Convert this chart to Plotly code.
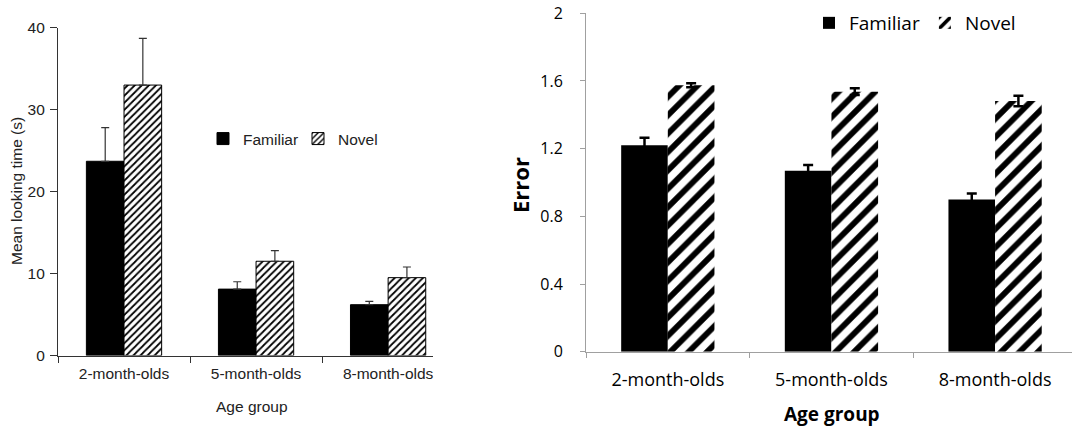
import plotly.graph_objects as go

# Age groups shared by both panels
age_groups = ["2-month-olds", "5-month-olds", "8-month-olds"]

# Panel A: mean looking time (s), upper error bars only
looking_familiar = [23.7, 8.1, 6.2]
looking_familiar_err = [4.1, 0.9, 0.4]
looking_novel = [33.0, 11.5, 9.5]
looking_novel_err = [5.7, 1.3, 1.3]

# Panel B: error, symmetric error bars
error_familiar = [1.22, 1.07, 0.90]
error_familiar_err = [0.045, 0.033, 0.035]
error_novel = [1.575, 1.537, 1.481]
error_novel_err = [0.012, 0.02, 0.031]

W, H = 1072, 432


def px_x(p):
    return p / W


def px_y(p):
    return (H - p) / H


LEFT_FONT = "Arial, Liberation Sans, sans-serif"
RIGHT_FONT = "Open Sans, sans-serif"

fig = go.Figure()

# ---- left panel ----
fig.add_trace(go.Bar(
    x=age_groups, y=looking_familiar, name="Familiar",
    marker=dict(color="black", line=dict(color="black", width=1)),
    error_y=dict(type="data", symmetric=False, array=looking_familiar_err,
                 arrayminus=[0] * len(looking_familiar_err),
                 color="#333", thickness=1.2, width=4),
    xaxis="x", yaxis="y", legend="legend",
))
fig.add_trace(go.Bar(
    x=age_groups, y=looking_novel, name="Novel",
    marker=dict(color="white", line=dict(color="black", width=1),
                pattern=dict(shape="/", size=5, solidity=0.35,
                             fgcolor="black", bgcolor="white", fgopacity=1)),
    error_y=dict(type="data", symmetric=False, array=looking_novel_err,
                 arrayminus=[0] * len(looking_novel_err),
                 color="#333", thickness=1.2, width=4),
    xaxis="x", yaxis="y", legend="legend",
))

# ---- right panel ----
fig.add_trace(go.Bar(
    x=age_groups, y=error_familiar, name="Familiar",
    marker=dict(color="black", line=dict(width=0)),
    error_y=dict(type="data", array=error_familiar_err,
                 color="black", thickness=2.5, width=5),
    xaxis="x2", yaxis="y2", legend="legend2",
))
fig.add_trace(go.Bar(
    x=age_groups, y=error_novel, name="Novel",
    marker=dict(color="white", line=dict(width=0),
                pattern=dict(shape="/", size=13, solidity=0.45,
                             fgcolor="black", bgcolor="white", fgopacity=1)),
    error_y=dict(type="data", array=error_novel_err,
                 color="black", thickness=2.5, width=5),
    xaxis="x2", yaxis="y2", legend="legend2",
))

left_axis_color = "#333333"
right_axis_color = "#a0a0a0"

fig.update_layout(
    template="none",
    width=W, height=H, autosize=False,
    margin=dict(l=0, r=0, t=0, b=0, pad=0),
    paper_bgcolor="white", plot_bgcolor="white",
    barmode="group", bargap=0.43, bargroupgap=0,
    xaxis=dict(
        domain=[px_x(58), px_x(433)], range=[-0.5, 2.34],
        type="category", tickson="boundaries", automargin=False,
        showline=True, linecolor=left_axis_color, linewidth=1.2,
        ticks="outside", ticklen=6, tickcolor=left_axis_color, tickwidth=1.2,
        tickfont=dict(family=LEFT_FONT, size=15.5, color="#222"),
        ticklabelstandoff=4,
        showgrid=False, zeroline=False, anchor="y",
    ),
    yaxis=dict(
        domain=[px_y(355.5), px_y(27.7)], range=[0, 40],
        tickvals=[0, 10, 20, 30, 40], automargin=False,
        showline=True, linecolor=left_axis_color, linewidth=1.2,
        ticks="outside", ticklen=7, tickcolor=left_axis_color, tickwidth=1.2,
        tickfont=dict(family=LEFT_FONT, size=15.5, color="#222"),
        ticklabelstandoff=2,
        showgrid=False, zeroline=False, anchor="x",
    ),
    xaxis2=dict(
        domain=[px_x(586), 1.0], range=[-0.5, 2.47],
        type="category", tickson="boundaries", automargin=False,
        showline=True, linecolor=right_axis_color, linewidth=1,
        ticks="outside", ticklen=5, tickcolor=right_axis_color, tickwidth=1,
        tickfont=dict(family=RIGHT_FONT, size=18, color="black"),
        ticklabelstandoff=12,
        showgrid=False, zeroline=False, anchor="y2",
    ),
    yaxis2=dict(
        domain=[px_y(351.7), px_y(13.3)], range=[0, 2], dtick=0.4,
        automargin=False,
        showline=True, linecolor=right_axis_color, linewidth=1,
        ticks="outside", ticklen=5, tickcolor=right_axis_color, tickwidth=1,
        tickfont=dict(family=RIGHT_FONT, size=16, color="black"),
        ticklabelstandoff=14,
        showgrid=False, zeroline=False, anchor="x2",
    ),
    legend=dict(
        orientation="h", x=px_x(203), xanchor="left",
        y=px_y(139), yanchor="middle",
        font=dict(family=LEFT_FONT, size=15.5, color="#222"),
        bgcolor="rgba(0,0,0,0)", traceorder="normal",
        entrywidth=50, entrywidthmode="pixels",
    ),
    legend2=dict(
        orientation="h", x=px_x(809), xanchor="left",
        y=px_y(23), yanchor="middle",
        font=dict(family=RIGHT_FONT, size=19, color="black"),
        bgcolor="rgba(0,0,0,0)", traceorder="normal",
    ),
    annotations=[
        dict(text="Mean looking time (s)", x=px_x(16), y=px_y(191),
             xref="paper", yref="paper", showarrow=False, textangle=-90,
             xanchor="center", yanchor="middle",
             font=dict(family=LEFT_FONT, size=15.5, color="#222")),
        dict(text="Age group", x=px_x(252), y=px_y(406),
             xref="paper", yref="paper", showarrow=False,
             xanchor="center", yanchor="middle",
             font=dict(family=LEFT_FONT, size=15.5, color="#222")),
        dict(text="<b>Error</b>", x=px_x(520), y=px_y(185),
             xref="paper", yref="paper", showarrow=False, textangle=-90,
             xanchor="center", yanchor="middle",
             font=dict(family=RIGHT_FONT, size=22, color="black")),
        dict(text="<b>Age group</b>", x=px_x(832), y=px_y(414),
             xref="paper", yref="paper", showarrow=False,
             xanchor="center", yanchor="middle",
             font=dict(family=RIGHT_FONT, size=19, color="black")),
    ],
)

fig.write_html("out.html")
